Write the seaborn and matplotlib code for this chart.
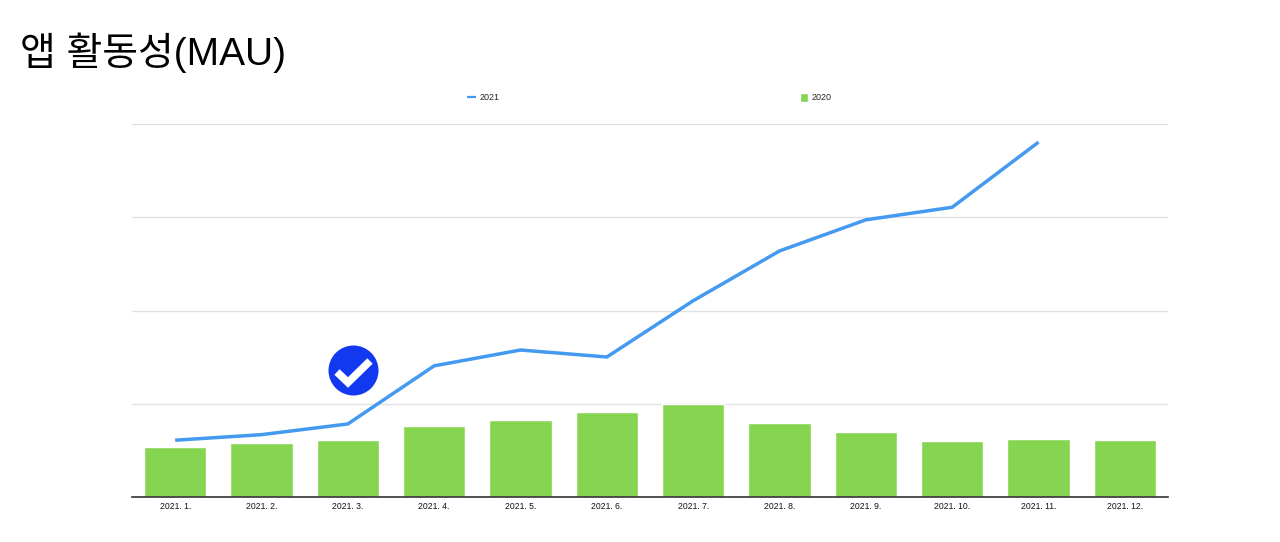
import numpy as np
import pandas as pd
import seaborn as sns
import matplotlib.pyplot as plt
from matplotlib.patches import Circle

months = ["2021. 1.", "2021. 2.", "2021. 3.", "2021. 4.", "2021. 5.", "2021. 6.",
          "2021. 7.", "2021. 8.", "2021. 9.", "2021. 10.", "2021. 11.", "2021. 12."]
# values, the axis has no labels so the scale is relative
mau_2021 = [60.5, 66.5, 78, 140.5, 157.5, 150, 210.5, 264, 297.5, 311, 381, np.nan]
mau_2020 = [52.7, 58, 60.5, 75.5, 82, 90.5, 99.5, 78.5, 69, 59.5, 61.5, 60.5]
y_ticks = [0, 100, 200, 300, 400]

BLUE = "#4499f0"
GREEN = "#86d551"

sns.set_theme(style="white")
plt.rcParams['font.family'] = ['Liberation Sans', 'DejaVu Sans']

df = pd.DataFrame({"month": months, "2021": mau_2021, "2020": mau_2020})

W, H = 1280, 542
fig = plt.figure(figsize=(W / 100, H / 100), dpi=100)
ax = fig.add_axes([132 / W, 1 - 496.5 / H, (1168 - 132) / W, (496.5 - 124.5) / H])

sns.barplot(data=df, x="month", y="2020", color=GREEN, saturation=1, width=0.725,
            label="2020", ax=ax, zorder=2)
sns.lineplot(data=df, x="month", y="2021", color=BLUE, linewidth=2.5, sort=False,
             label="2021", ax=ax, zorder=3, solid_capstyle="butt", solid_joinstyle="miter")

ax.set_xlim(-0.5, 11.5)
ax.set_ylim(0, 400)
ax.set_yticks(y_ticks)
ax.set_yticklabels([])
ax.set_xlabel("")
ax.set_ylabel("")
ax.grid(axis="y", color="#e2e2e2", linewidth=1)
ax.set_axisbelow(True)
ax.tick_params(axis="x", length=0, labelsize=6.2, pad=4.2, labelcolor="#111111")
ax.tick_params(axis="y", length=0)
for side in ["top", "right", "left"]:
    ax.spines[side].set_visible(False)
ax.spines["bottom"].set_color("#333333")
ax.spines["bottom"].set_linewidth(1.2)
ax.spines["bottom"].set_zorder(5)

# legend sits above the plot, entries far apart
handles, labels = ax.get_legend_handles_labels()
order = [labels.index("2021"), labels.index("2020")]
leg = ax.legend([handles[i] for i in order], [labels[i] for i in order], ncol=2,
                loc="center", bbox_to_anchor=(649.5 / W, 1 - 97.5 / H),
                bbox_transform=fig.transFigure, frameon=False, fontsize=6.5,
                columnspacing=33.3, handlelength=0.9, handleheight=1.3, handletextpad=0.4)
leg.get_lines()[0].set_linewidth(1.6)

# title and check badge in pixel coordinates
overlay = fig.add_axes([0, 0, 1, 1], zorder=10)
overlay.set_xlim(0, W)
overlay.set_ylim(H, 0)
overlay.axis("off")
overlay.text(20, 53, "앱 활동성(MAU)", fontsize=28, color="black", va="center", ha="left",
             family=["Liberation Sans", "Noto Sans CJK KR", "DejaVu Sans"])
overlay.add_patch(Circle((353.5, 370.5), 25, color="#1238f0", lw=0))
overlay.plot([337, 348, 370], [372, 382.5, 361], color="white", linewidth=5.5,
             solid_capstyle="butt", solid_joinstyle="miter")

fig.savefig("out.png", dpi=100)
